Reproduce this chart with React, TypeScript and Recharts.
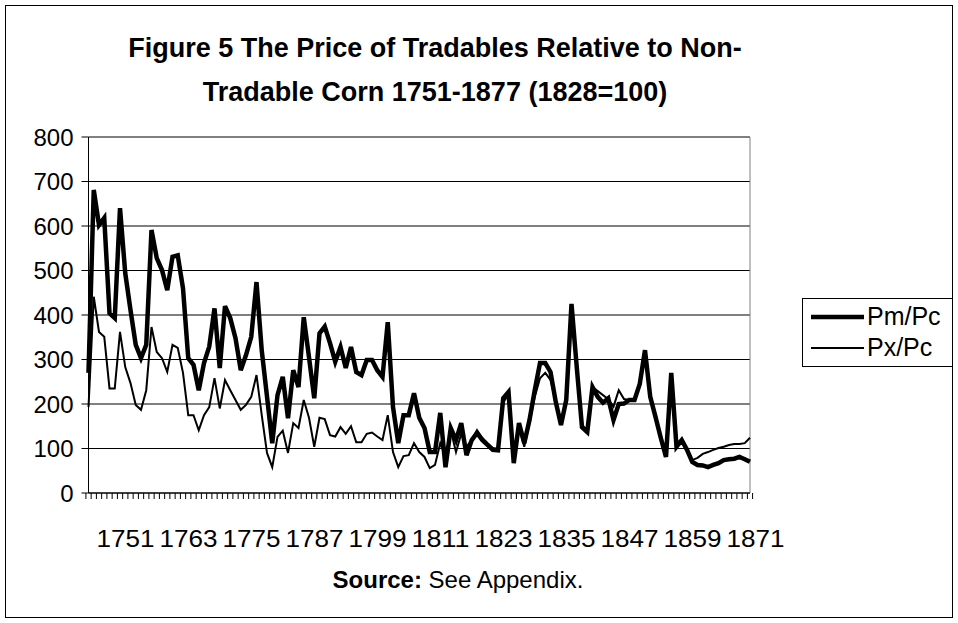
import {
  ComposedChart,
  Line,
  XAxis,
  YAxis,
  CartesianGrid,
  Legend,
} from "recharts";

const FONT = '"Liberation Sans", Arial, sans-serif';

// one category per year, 1751..1877
const firstYear = 1751;
const yearCount = 127;
const years = Array.from({ length: yearCount }, (_, i) => String(firstYear + i));

// Pm/Pc (thick line)
const pmPc = [
  270, 681, 602, 618, 404, 393, 640, 494, 411, 333,
  303, 333, 591, 528, 501, 456, 531, 534, 460, 303,
  288, 231, 292, 329, 415, 281, 420, 393, 348, 276,
  310, 351, 474, 320, 217, 112, 220, 261, 168, 276,
  238, 395, 305, 213, 359, 374, 337, 295, 328, 281,
  328, 272, 265, 299, 299, 276, 261, 384, 193, 112,
  175, 175, 224, 169, 146, 92, 92, 180, 58, 146,
  119, 157, 85, 119, 135, 119, 108, 97, 96, 213,
  227, 67, 157, 112, 164, 231, 292, 292, 272, 205,
  153, 209, 425, 283, 148, 137, 238, 216, 203, 213,
  164, 200, 201, 209, 209, 245, 321, 216, 171, 124,
  81, 270, 104, 119, 97, 70, 63, 62, 58, 63,
  67, 74, 76, 77, 81, 76, 70,
];

// Px/Pc (thin line)
const pxPc = [
  193, 441, 362, 351, 235, 235, 362, 283, 247, 198,
  187, 231, 373, 317, 303, 272, 333, 326, 270, 175,
  175, 141, 175, 193, 258, 190, 254, 231, 209, 187,
  198, 216, 265, 175, 90, 58, 126, 140, 90, 157,
  146, 209, 169, 104, 169, 166, 130, 127, 148, 133,
  150, 114, 114, 133, 136, 127, 119, 175, 92, 58,
  83, 85, 112, 92, 81, 56, 63, 112, 80, 141,
  92, 133, 104, 119, 141, 124, 112, 101, 99, 205,
  220, 74, 148, 104, 157, 216, 258, 270, 254, 205,
  153, 209, 420, 283, 153, 141, 238, 229, 220, 211,
  194, 231, 211, 209, 211, 245, 321, 216, 171, 124,
  81, 265, 104, 119, 97, 74, 79, 88, 92, 97,
  101, 104, 108, 110, 110, 112, 124,
];

const yTicks = [0, 100, 200, 300, 400, 500, 600, 700, 800];
const labelEvery = 12;

const data = years.map((year, i) => ({
  year,
  pm: pmPc[i],
  px: pxPc[i],
}));

// excel style: a tick at every category boundary, a label every 12 years
const YearTick = (props: any) => {
  const { x, y, payload, index } = props;
  const half = payload?.offset || 2.6;
  const showLabel = index % labelEvery === 0;
  return (
    <g>
      <line x1={x - half} y1={y} x2={x - half} y2={y + 6} stroke="#000" />
      {index === years.length - 1 && (
        <line x1={x + half} y1={y} x2={x + half} y2={y + 6} stroke="#000" />
      )}
      {showLabel && (
        <text
          x={x + 37}
          y={y + 54}
          textAnchor="middle"
          fontSize={24}
          fontFamily={FONT}
          fill="#000"
          textLength={58}
          lengthAdjust="spacingAndGlyphs"
        >
          {payload.value}
        </text>
      )}
    </g>
  );
};

const LegendBox = () => (
  <div
    style={{
      border: "1px solid #000",
      boxSizing: "border-box",
      width: 151,
      height: 69,
      background: "#fff",
      fontFamily: FONT,
      fontSize: 25,
      color: "#000",
      paddingTop: 2,
    }}
  >
    {[
      { name: "Pm/Pc", w: 4.5 },
      { name: "Px/Pc", w: 2 },
    ].map((item) => (
      <div
        key={item.name}
        style={{ display: "flex", alignItems: "center", height: 31 }}
      >
        <svg width={64} height={20}>
          <line x1={8} y1={10} x2={61} y2={10} stroke="#000" strokeWidth={item.w} />
        </svg>
        <span>{item.name}</span>
      </div>
    ))}
  </div>
);

export default function App() {
  return (
    <div
      style={{
        position: "absolute",
        left: 0,
        top: 0,
        width: 958,
        height: 623,
        background: "#fff",
        fontFamily: FONT,
      }}
    >
      <div
        style={{
          position: "absolute",
          left: 5,
          top: 5,
          width: 948,
          height: 613,
          border: "1px solid #000",
          boxSizing: "border-box",
        }}
      />
      <div
        style={{
          position: "absolute",
          left: 0,
          top: 26,
          width: 870,
          textAlign: "center",
          fontWeight: "bold",
          fontSize: 27,
          lineHeight: "44px",
        }}
      >
        Figure 5 The Price of Tradables Relative to Non-
        <br />
        Tradable Corn 1751-1877 (1828=100)
      </div>
      <ComposedChart
        width={958}
        height={623}
        data={data}
        margin={{ top: 137, right: 208, bottom: 0, left: 0 }}
        style={{ position: "absolute", left: 0, top: 0 }}
      >
        <CartesianGrid horizontal vertical={false} stroke="#000" />
        <CartesianGrid
          horizontal={false}
          vertical
          stroke="#808080"
          verticalCoordinatesGenerator={({ offset }: any) => [
            offset.left + offset.width,
          ]}
        />
        <XAxis
          dataKey="year"
          interval={0}
          height={130}
          tickSize={0}
          tickMargin={0}
          tickLine={false}
          axisLine={{ stroke: "#000" }}
          tick={<YearTick />}
        />
        <YAxis
          type="number"
          domain={[0, 800]}
          ticks={yTicks}
          interval={0}
          width={88.5}
          tickSize={7}
          tickMargin={8}
          axisLine={{ stroke: "#000" }}
          tickLine={{ stroke: "#000" }}
          tick={{ fill: "#000", fontSize: 24, fontFamily: FONT }}
        />
        <Legend
          layout="vertical"
          align="center"
          verticalAlign="middle"
          wrapperStyle={{ left: 802, top: 298, width: 151, height: 69 }}
          content={<LegendBox />}
        />
        <Line
          dataKey="px"
          name="Px/Pc"
          stroke="#000"
          strokeWidth={2}
          dot={false}
          isAnimationActive={false}
        />
        <Line
          dataKey="pm"
          name="Pm/Pc"
          stroke="#000"
          strokeWidth={4.5}
          dot={false}
          isAnimationActive={false}
        />
      </ComposedChart>
      <div
        style={{
          position: "absolute",
          left: 0,
          top: 566,
          width: 916,
          textAlign: "center",
          fontSize: 24,
        }}
      >
        <b>Source:</b> See Appendix.
      </div>
    </div>
  );
}
